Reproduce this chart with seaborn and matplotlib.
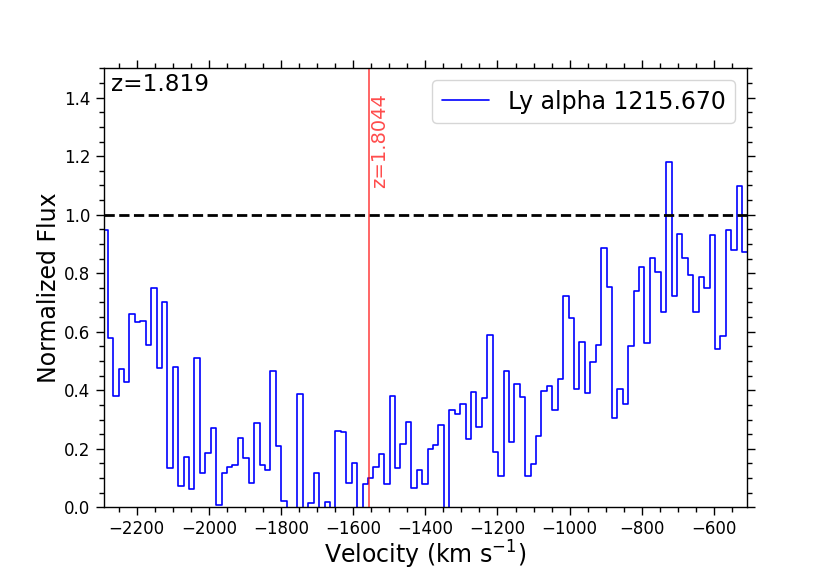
import numpy as np
import pandas as pd
import matplotlib
matplotlib.use("Agg")
import matplotlib.pyplot as plt
from matplotlib.ticker import MultipleLocator
import seaborn as sns

# normalized flux per pixel
flux = [
    0.947, 0.580, 0.381, 0.471, 0.428, 0.662, 0.634, 0.637, 0.553, 0.751,
    0.475, 0.703, 0.133, 0.479, 0.074, 0.171, 0.063, 0.511, 0.116, 0.187,
    0.271, 0.007, 0.118, 0.138, 0.145, 0.237, 0.168, 0.084, 0.288, 0.145,
    0.126, 0.467, 0.208, 0.021, -0.060, -0.040, 0.388, -0.050, 0.015, 0.116,
    -0.030, 0.017, -0.040, 0.260, 0.256, 0.082, 0.151, -0.050, 0.080, 0.100,
    0.139, 0.183, 0.080, 0.381, 0.135, 0.217, 0.290, 0.065, 0.126, 0.078,
    0.200, 0.212, 0.280, -0.080, 0.331, 0.318, 0.354, 0.234, 0.395, 0.276,
    0.375, 0.590, 0.190, 0.106, 0.466, 0.222, 0.420, 0.377, 0.107, 0.148,
    0.242, 0.399, 0.416, 0.332, 0.437, 0.722, 0.648, 0.405, 0.564, 0.392,
    0.495, 0.556, 0.886, 0.754, 0.305, 0.405, 0.354, 0.551, 0.740, 0.822,
    0.561, 0.852, 0.804, 0.669, 1.179, 0.723, 0.934, 0.853, 0.795, 0.667,
    0.788, 0.751, 0.930, 0.542, 0.586, 0.948, 0.880, 1.097, 0.874,
]

# velocity grid of the pixels (km/s)
v_start = -2288.0
dv = 15.03

line_label = "Ly alpha 1215.670"
z_abs = 1.819
z_sys_label = "z=1.8044"
v_sys = -1557.0
xlim = (-2291.5, -508.3)
ylim = (0.0, 1.5)

velocity = v_start + dv * np.arange(len(flux))
# left pixel edges plus the closing edge, for a steps-post outline
edges = np.append(velocity - dv / 2, velocity[-1] + dv / 2)
df = pd.DataFrame({"velocity": edges, "flux": flux + [flux[-1]]})

sns.set_style("ticks")
plt.rcParams["font.family"] = ["DejaVu Sans"]
for key in ["axes.edgecolor", "xtick.color", "ytick.color",
            "text.color", "axes.labelcolor"]:
    plt.rcParams[key] = "black"

fig = plt.figure(figsize=(8.3, 5.7), dpi=100)
ax = fig.add_subplot(111)

sns.lineplot(data=df, x="velocity", y="flux", drawstyle="steps-post",
             color="blue", linewidth=1.2, label=line_label,
             estimator=None, sort=False, ax=ax)

ax.axhline(1.0, color="black", linestyle="--", linewidth=2)
ax.axvline(v_sys, color="red", alpha=0.7, linewidth=1.2)
ax.text(v_sys + 5, 1.09, z_sys_label, rotation=90, color="red", alpha=0.7,
        fontsize=14, ha="left", va="bottom")
ax.text(0.012, 0.99, f"z={z_abs}", transform=ax.transAxes, fontsize=16.7,
        ha="left", va="top")

ax.set_xlim(*xlim)
ax.set_ylim(*ylim)
ax.set_xlabel(r"Velocity (km s$^{-1}$)", fontsize=17, labelpad=0)
ax.set_ylabel("Normalized Flux", fontsize=17, labelpad=2)

ax.xaxis.set_major_locator(MultipleLocator(200))
ax.xaxis.set_minor_locator(MultipleLocator(50))
ax.yaxis.set_major_locator(MultipleLocator(0.2))
ax.yaxis.set_minor_locator(MultipleLocator(0.05))
ax.tick_params(which="both", direction="out", top=True, right=True,
               labelsize=12, width=1)
ax.tick_params(which="major", length=6)
ax.tick_params(which="minor", length=3.5)
for spine in ax.spines.values():
    spine.set_visible(True)
    spine.set_linewidth(1)

ax.legend(loc="upper right", fontsize=17)

fig.savefig("out.png", dpi=100)
